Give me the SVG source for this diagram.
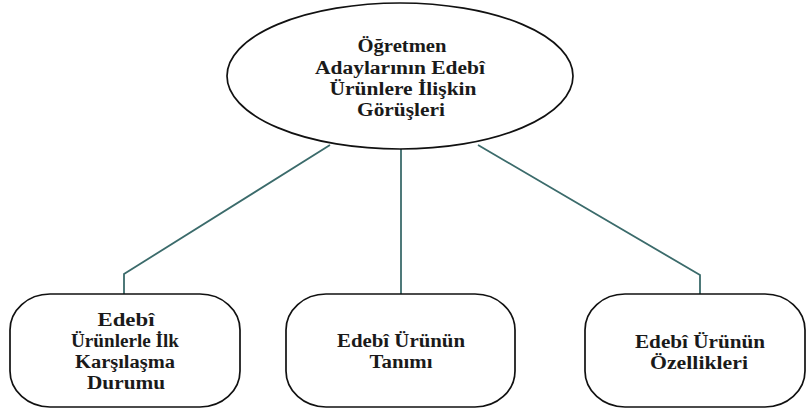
<svg xmlns="http://www.w3.org/2000/svg" width="808" height="413" viewBox="0 0 808 413">
<style>
.node{fill:#ffffff;stroke:#111111;stroke-width:1.7}
.conn{fill:none;stroke:#3b6b6b;stroke-width:1.8}
.lbl{font-family:"Liberation Serif","Times New Roman",serif;font-weight:bold;font-size:18px;fill:#1a1a1a;text-anchor:middle}
</style>
<rect width="808" height="413" fill="#ffffff"/>
<g id="connectors">
<polyline class="conn" points="330,145 124,274 124,294"/>
<line class="conn" x1="401" y1="149" x2="401" y2="294"/>
<polyline class="conn" points="478,145 700,275 700,294"/>
</g>
<g id="root">
<ellipse class="node" cx="400" cy="76" rx="173" ry="73"/>
<text class="lbl" x="402" y="52" textLength="89" lengthAdjust="spacingAndGlyphs">Öğretmen</text>
<text class="lbl" x="400" y="74" textLength="170" lengthAdjust="spacingAndGlyphs">Adaylarının Edebî</text>
<text class="lbl" x="403" y="95" textLength="147" lengthAdjust="spacingAndGlyphs">Ürünlere İlişkin</text>
<text class="lbl" x="401" y="116" textLength="88" lengthAdjust="spacingAndGlyphs">Görüşleri</text>
</g>
<g id="node-ilk-karsilasma">
<rect class="node" x="10" y="294" width="230" height="113" rx="40" ry="36"/>
<text class="lbl" x="126" y="326" textLength="57" lengthAdjust="spacingAndGlyphs">Edebî</text>
<text class="lbl" x="125" y="347" textLength="108" lengthAdjust="spacingAndGlyphs">Ürünlerle İlk</text>
<text class="lbl" x="125" y="368" textLength="100" lengthAdjust="spacingAndGlyphs">Karşılaşma</text>
<text class="lbl" x="126" y="389" textLength="78" lengthAdjust="spacingAndGlyphs">Durumu</text>
</g>
<g id="node-tanim">
<rect class="node" x="286" y="294" width="229" height="113" rx="40" ry="36"/>
<text class="lbl" x="401" y="347" textLength="128" lengthAdjust="spacingAndGlyphs">Edebî Ürünün</text>
<text class="lbl" x="401" y="368" textLength="63" lengthAdjust="spacingAndGlyphs">Tanımı</text>
</g>
<g id="node-ozellikler">
<rect class="node" x="585" y="294" width="220" height="113" rx="40" ry="36"/>
<text class="lbl" x="700" y="348" textLength="130" lengthAdjust="spacingAndGlyphs">Edebî Ürünün</text>
<text class="lbl" x="699" y="369" textLength="98" lengthAdjust="spacingAndGlyphs">Özellikleri</text>
</g>
</svg>
